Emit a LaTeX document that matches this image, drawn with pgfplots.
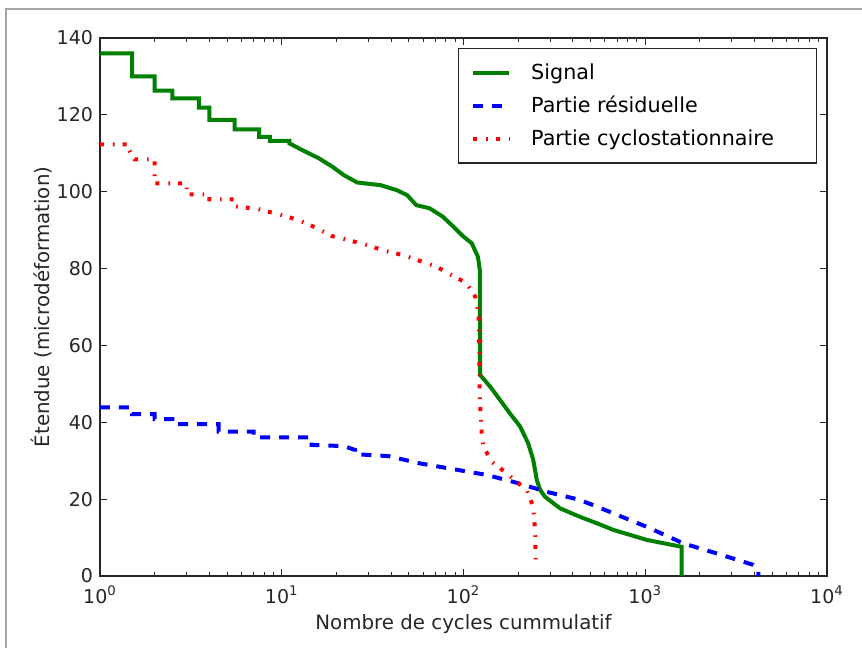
\documentclass[border=0pt]{standalone}
\usepackage{pgfplots}
\pgfplotsset{compat=1.18}
\usepackage{fontspec}
\setmainfont{DejaVu Sans}
\definecolor{mplgreen}{rgb}{0,0.5,0}
\begin{document}
\begin{tikzpicture}
\useasboundingbox (0,0) rectangle (431pt,324pt);
\draw[black!35, line width=0.6pt] (3pt,0) -- (3pt,319.5pt) -- (431pt,319.5pt);
\begin{axis}[
 at={(50pt,36pt)}, anchor=south west,
 scale only axis, width=363.5pt, height=269pt,
 xmode=log, xmin=1, xmax=10000, ymin=0, ymax=140,
 xtick={1,10,100,1000,10000},
 xticklabels={10\textsuperscript{0},10\textsuperscript{1},10\textsuperscript{2},10\textsuperscript{3},10\textsuperscript{4}},
 ytick={0,20,...,140},
 /pgf/number format/assume math mode=true,
 tick align=inside,
 major tick length=3.5pt, minor tick length=2pt,
 tick style={black!85, line width=0.5pt},
 axis line style={black!85, line width=0.8pt},
 ticklabel style={font=\fontsize{9.5}{11}\selectfont, text=black!85},
 xticklabel style={yshift=-1.5pt},
 xlabel={Nombre de cycles cummulatif},
 ylabel={Étendue (microdéformation)},
 label style={font=\fontsize{9.9}{12}\selectfont, text=black!85},
 xlabel style={at={(axis description cs:0.5,-0.0892)}, anchor=center},
 ylabel style={at={(axis description cs:-0.0798,0.5)}, anchor=center},
 legend cell align=left,
 legend style={at={(0.986,0.981)}, anchor=north east, draw=black!85, line width=0.6pt,
   font=\fontsize{10.35}{12}\selectfont, row sep=2.8pt, inner ysep=5.5pt},
 legend image code/.code={\draw[#1] (0pt,0pt) -- (18pt,0pt); \path (-3.5pt,0pt) (26pt,0pt);},
]
\addplot[mplgreen, line width=2pt] coordinates {
(1,136) (1.5,136) (1.5,130) (2,130) (2,126.3) (2.5,126.3) (2.5,124.3) (3.5,124.3) (3.5,121.9) (4,121.9) (4,118.7) (5.5,118.7) (5.5,116.2) (7.5,116.2) (7.5,114.3) (8.6,114.3) (8.6,113.2) (11,113.2) (11,112.6)
(13,110.8) (16,108.7) (19,106.5) (22,104.3) (26,102.4) (35,101.7) (43,100.4) (49,99.1) (55,96.5) (65,95.7) (77,93.5) (88,90.9) (100,88.3) (111,86.6) (120,83.1) (123,79.6) (123.5,52.3)
(140,49.3) (159,45.8) (180,42.3) (205,38.9) (227,34.5) (242,30.2) (253,25) (264,22.4) (281,20.6) (340,17.6) (437,15.4) (564,13.4) (667,12) (1018,9.4) (1585,7.6) (1585,0)
};
\addlegendentry{\makebox[137.5pt][l]{Signal}}
\addplot[blue, line width=2pt, dash pattern=on 5pt off 4.5pt] coordinates {
(1,43.9) (1.5,43.9) (1.5,42.1) (2,42.1) (2,40.8) (2.5,40.8) (2.5,39.5) (4.5,39.5) (4.5,37.6) (7,37.6) (7,36.1) (14.6,36.1) (14.6,34.1) (22,33.8) (25.3,32.8) (25.3,31.7) (38.6,31.2)
(57.6,29.3) (88,27.8) (134,26.3) (188,24.5) (287,21.9) (437,19.8) (600,17.2) (1018,12.8) (1618,8.5) (2500,5.8) (3927,2.9) (4188,1.5) (4188,0)
};
\addlegendentry{\makebox[137.5pt][l]{Partie résiduelle}}
\addplot[red, line width=2pt, dash pattern=on 2pt off 4.5pt on 0.8pt off 4pt] coordinates {
(1,112.3) (1.45,112.3) (1.45,110.8) (1.55,108.4) (2,108.4) (2,102.2) (3,102.2) (3,99.3) (4,99.3) (4,98) (5.3,98) (5.3,96.3) (7.4,95.5)
(10.2,93.8) (12.6,92.5) (15.6,90.5) (18.8,88.5) (23.8,87.3) (30,86) (37,84.6) (46.6,83.5) (57.6,82) (71,80.5) (86,78.3) (104,76.2) (116,72.7) (121,68.4) (122,60) (123,45.8) (126,37.1) (129,33.6) (143,29.7) (169,27.1) (196,24.5) (223,22.4) (242,18) (248,11.1) (250,2.4)
};
\addlegendentry{\makebox[137.5pt][l]{Partie cyclostationnaire}}
\end{axis}
\end{tikzpicture}
\end{document}
